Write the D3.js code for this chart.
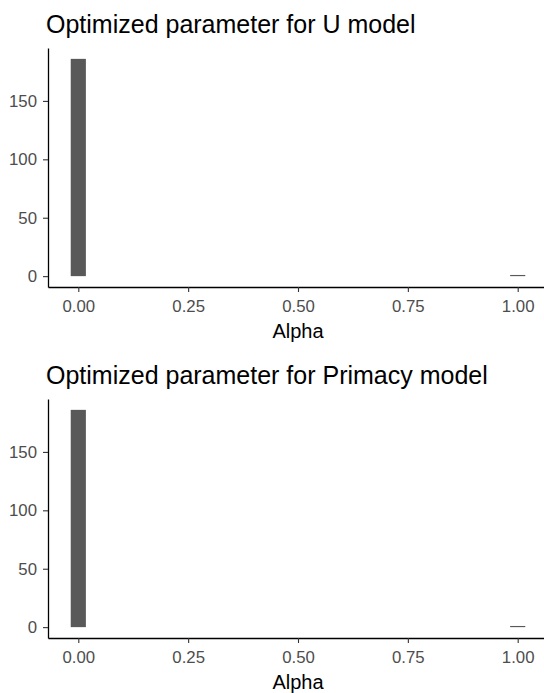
<!DOCTYPE html>
<html>
<head>
<meta charset="utf-8">
<script src="https://cdn.jsdelivr.net/npm/d3@7"></script>
<style>
  body { margin: 0; background: #fff; }
  svg { display: block; font-family: "Liberation Sans", Arial, sans-serif; }
</style>
</head>
<body>
<svg id="chart" width="544" height="693"></svg>
<script>
// histogram bins (30 bins over 0..1), only the non-empty ones are listed
const binCount = 30
const binMids = [0, 1]
const uCounts = [186, 1]
const primacyCounts = [186, 1]

const panels = [
  { title: "Optimized parameter for U model", counts: uCounts },
  { title: "Optimized parameter for Primacy model", counts: primacyCounts },
]

const xTicks = [0, 0.25, 0.5, 0.75, 1]
const yTicks = [0, 50, 100, 150]
const xLabel = "Alpha"

const svg = d3.select('#chart')
const binWidth = 1 / (binCount - 1)

function drawPanel(p, top) {
  const g = svg.append('g').attr('transform', `translate(0, ${top})`)

  const bins = binMids.map((m, i) => ({ x0: m - binWidth / 2, x1: m + binWidth / 2, n: p.counts[i] }))
  const xMin = d3.min(bins, d => d.x0), xMax = d3.max(bins, d => d.x1)
  const xPad = (xMax - xMin) * 0.05
  const x = d3.scaleLinear().domain([xMin - xPad, xMax + xPad]).range([48, 548])

  const yMax = d3.max(bins, d => d.n)
  const y = d3.scaleLinear().domain([-yMax * 0.05, yMax * 1.05]).range([287, 48])

  g.append('text')
    .attr('x', 46).attr('y', 33)
    .attr('font-size', 25)
    .attr('fill', '#000')
    .text(p.title)

  g.append('g')
    .selectAll('rect')
    .data(bins)
    .join('rect')
      .attr('x', d => x(d.x0))
      .attr('width', d => x(d.x1) - x(d.x0))
      .attr('y', d => y(d.n))
      .attr('height', d => Math.max(y(0) - y(d.n), 1))
      .attr('fill', '#595959')

  const xAxis = g.append('g')
    .attr('transform', `translate(0, 287)`)
    .call(d3.axisBottom(x).tickValues(xTicks).tickFormat(d3.format('.2f')).tickSize(5).tickSizeOuter(0).tickPadding(8))
  const yAxis = g.append('g')
    .attr('transform', `translate(48, 0)`)
    .call(d3.axisLeft(y).tickValues(yTicks).tickSize(5).tickSizeOuter(0).tickPadding(6))

  for (const ax of [xAxis, yAxis]) {
    ax.select('.domain').attr('stroke', '#000').attr('stroke-width', 1.3)
    ax.selectAll('.tick line').attr('stroke', '#333').attr('stroke-width', 1.1)
    ax.selectAll('.tick text')
      .attr('fill', '#4D4D4D')
      .attr('font-size', 16.8)
      .attr('font-family', '"Liberation Sans", Arial, sans-serif')
  }

  g.append('text')
    .attr('x', x(0.5)).attr('y', 337.5)
    .attr('text-anchor', 'middle')
    .attr('font-size', 20)
    .attr('fill', '#000')
    .text(xLabel)
}

panels.forEach((p, i) => drawPanel(p, i * 351))
</script>
</body>
</html>
